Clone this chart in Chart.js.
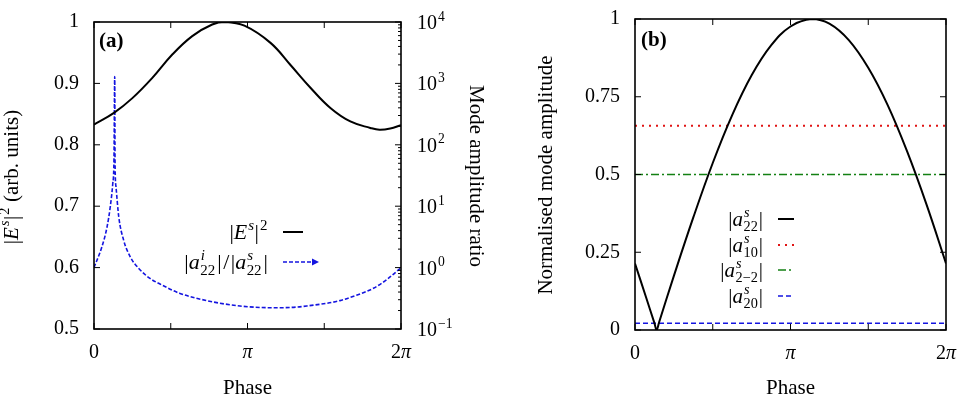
<!DOCTYPE html>
<html><head><meta charset="utf-8">
<script src="https://cdn.jsdelivr.net/npm/chart.js@4.4.1/dist/chart.umd.min.js"></script>
<style>
html,body{margin:0;padding:0;background:#fff;}
#wrap{position:relative;width:965px;height:400px;overflow:hidden;background:#fff;}
canvas{position:absolute;top:0;}
</style></head><body>
<div id="wrap">
<canvas id="ca" width="490" height="400" style="left:0px"></canvas>
<canvas id="cb" width="475" height="400" style="left:490px"></canvas>
</div>
<script>
// ---------- data (phase in units of pi) ----------
const phaseE     = [0, 0.13, 0.25, 0.38, 0.51, 0.64, 0.77, 0.855, 0.98, 1.15, 1.28, 1.41, 1.54, 1.67, 1.80, 1.86, 1.93, 2.0];
const intensityE = [0.833, 0.852, 0.876, 0.909, 0.947, 0.977, 0.996, 1.0, 0.994, 0.966, 0.930, 0.893, 0.860, 0.838, 0.8275, 0.8245, 0.8265, 0.832];

const phaseRatio = [0, 0.052, 0.085, 0.106, 0.122, 0.130, 0.135, 0.137, 0.143, 0.161, 0.193, 0.236, 0.293, 0.367, 0.430, 0.560, 0.734, 0.951, 1.168, 1.277, 1.386, 1.603, 1.71, 1.820, 1.91, 2.0];
const ratioA22   = [1.0, 2.2, 4.6, 9.8, 23, 56, 1290, 55, 21, 6.8, 2.8, 1.5, 0.96, 0.66, 0.54, 0.38, 0.29, 0.237, 0.222, 0.224, 0.237, 0.29, 0.355, 0.46, 0.645, 1.0];

const phaseB = [0, 0.07, 0.125, 0.139, 0.155, 0.25, 0.375, 0.5, 0.625, 0.75, 0.875, 1.0, 1.136, 1.25, 1.375, 1.5, 1.625, 1.75, 1.875, 2.0];
const ampA22 = [0.214, 0.107, 0.022, 0, 0.025, 0.174, 0.362, 0.537, 0.691, 0.819, 0.915, 0.976, 1.0, 0.985, 0.932, 0.843, 0.723, 0.574, 0.403, 0.214];

const phaseFlat = [0, 2];
const ampA10  = [0.657, 0.657];
const ampA2m2 = [0.5, 0.5];
const ampA20  = [0.0215, 0.0215];

const phaseTicks = [0, 0.5, 1, 1.5, 2];
const phaseTickLabels = {0: [{t:'0'}], 1: [{t:'π', it:true}], 2: [{t:'2'}, {t:'π', it:true}]};
const ticksEA = [0.5, 0.6, 0.7, 0.8, 0.9, 1];
const ratioDecades = [-1, 0, 1, 2, 3, 4];
const ticksAmpB = [0, 0.25, 0.5, 0.75, 1];

// ---------- helpers ----------
const FONT = 'Liberation Serif';
const BLUE = '#1414e0', RED = '#e01414', GREEN = '#138013';
function fnt(size, it, bold){ return (it?'italic ':'') + (bold?'bold ':'') + size + 'px "' + FONT + '"'; }
function segW(ctx, s, size){
  if (s.t !== undefined){ ctx.font = fnt(size, s.it, s.b); return ctx.measureText(s.t).width + (s.sp || 0); }
  const ss = size*0.68; let a = 0, b = 0;
  if (s.sup){ ctx.font = fnt(ss, s.supIt); a = ctx.measureText(s.sup).width; }
  if (s.sub){ ctx.font = fnt(ss, false); b = ctx.measureText(s.sub).width; }
  return Math.max(a, b) + (s.pad !== undefined ? s.pad : 1.5);
}
function drawRich(ctx, segs, x, y, size, align){
  let w = 0; for (const s of segs) w += segW(ctx, s, size);
  let cx = align === 'right' ? x - w : align === 'center' ? x - w/2 : x;
  ctx.textAlign = 'left'; ctx.textBaseline = 'alphabetic'; ctx.fillStyle = '#000';
  for (const s of segs){
    const ww = segW(ctx, s, size);
    if (s.t !== undefined){
      ctx.font = fnt(size, s.it, s.b); ctx.fillText(s.t, cx + (s.sp || 0)/2, y);
    } else {
      const ss = size*0.68;
      if (s.sup){ ctx.font = fnt(ss, s.supIt); ctx.fillText(s.sup, cx + 1, y - size*0.42); }
      if (s.sub){ ctx.font = fnt(ss, false); ctx.fillText(s.sub, cx + 0.5, y + size*0.26); }
    }
    cx += ww;
  }
}
function drawRotated(ctx, segs, cx, cy, size, angle){
  ctx.save(); ctx.translate(cx, cy); ctx.rotate(angle);
  drawRich(ctx, segs, 0, size*0.3, size, 'center');
  ctx.restore();
}
function line(ctx, x1, y1, x2, y2){ ctx.beginPath(); ctx.moveTo(x1, y1); ctx.lineTo(x2, y2); ctx.stroke(); }
function sample(ctx, x1, x2, y, color, dash, width){
  ctx.save(); ctx.strokeStyle = color; ctx.lineWidth = width; ctx.setLineDash(dash);
  line(ctx, x1, y, x2, y); ctx.restore();
}
function frameAndXTicks(ctx, chart){
  const a = chart.chartArea, xs = chart.scales.x;
  ctx.save(); ctx.strokeStyle = '#000'; ctx.lineWidth = 1;
  for (const v of phaseTicks){
    const px = xs.getPixelForValue(v);
    line(ctx, px, a.bottom, px, a.bottom - 6);
    line(ctx, px, a.top, px, a.top + 6);
    if (phaseTickLabels[v]) drawRich(ctx, phaseTickLabels[v], px, a.bottom + 29, 20, 'center');
  }
  ctx.lineWidth = 1.6;
  ctx.strokeRect(a.left, a.top, a.right - a.left, a.bottom - a.top);
  drawRich(ctx, [{t:'Phase'}], (a.left + a.right)/2, 394, 21, 'center');
  ctx.restore();
}
function fixPad(s){ s.paddingTop = 0; s.paddingBottom = 0; s.paddingLeft = 0; s.paddingRight = 0; }
const tickFmt = (v) => String(Math.round(v * 100) / 100);

Chart.defaults.font.family = FONT;
Chart.defaults.font.size = 20;
Chart.defaults.color = '#000';

const noGrid = {display:false, drawTicks:false};
const noBorder = {display:false};

// ---------- panel (a) ----------
const decorA = {
  id: 'decorA',
  afterDraw(chart){
    const ctx = chart.ctx, a = chart.chartArea, y = chart.scales.y, y2 = chart.scales.y2;
    ctx.save(); ctx.strokeStyle = '#000'; ctx.lineWidth = 1;
    for (const v of ticksEA){ const py = y.getPixelForValue(v); line(ctx, a.left, py, a.left + 6, py); }
    for (const d of ratioDecades){
      const py = y2.getPixelForValue(Math.pow(10, d));
      line(ctx, a.right, py, a.right - 6, py);
      drawRich(ctx, [{t:'10'}, {sup: d < 0 ? '−' + (-d) : String(d)}], a.right + 16, py + 7, 20, 'left');
      if (d < 4) for (let m = 2; m <= 9; m++){
        const pm = y2.getPixelForValue(m * Math.pow(10, d));
        line(ctx, a.right, pm, a.right - 3, pm);
      }
    }
    ctx.restore();
    frameAndXTicks(ctx, chart);
    drawRich(ctx, [{t:'(a)', b:true}], a.left + 5, a.top + 25, 21, 'left');
    drawRotated(ctx, [{t:'|'}, {t:'E', it:true}, {sup:'s', supIt:true}, {t:'|'}, {sup:'2'}, {t:' (arb. units)'}], 12, 177, 21, -Math.PI/2);
    drawRotated(ctx, [{t:'Mode amplitude ratio'}], 476, 176, 21, Math.PI/2);
    // legend
    const tx = a.left + 174, sx1 = a.left + 189;
    const r1 = a.top + 210, r2 = a.top + 240;
    drawRich(ctx, [{t:'|'}, {t:'E', it:true}, {sup:'s', supIt:true}, {t:'|'}, {sup:'2'}], tx, r1 + 7, 22, 'right');
    sample(ctx, sx1, sx1 + 20, r1, '#000', [], 2);
    drawRich(ctx, [{t:'|'}, {t:'a', it:true}, {sup:'i', supIt:true, sub:'22', pad:2.5}, {t:'|'}, {t:'/', sp:3}, {t:'|'}, {t:'a', it:true}, {sup:'s', supIt:true, sub:'22', pad:2.5}, {t:'|'}], tx, r2 + 7, 22, 'right');
    sample(ctx, sx1, sx1 + 30, r2, BLUE, [4, 2], 1.6);
    ctx.save(); ctx.fillStyle = BLUE; ctx.beginPath();
    ctx.moveTo(sx1 + 36, r2); ctx.lineTo(sx1 + 29, r2 - 3.5); ctx.lineTo(sx1 + 29, r2 + 3.5); ctx.closePath(); ctx.fill(); ctx.restore();
  }
};

new Chart(document.getElementById('ca'), {
  type: 'line',
  data: { datasets: [
    { label: '|E^s|^2', data: phaseE.map((p, i) => ({x: p, y: intensityE[i]})), yAxisID: 'y',
      borderColor: '#000', borderWidth: 2, pointRadius: 0, tension: 0.4, fill: false },
    { label: '|a^i_22|/|a^s_22|', data: phaseRatio.map((p, i) => ({x: p, y: ratioA22[i]})), yAxisID: 'y2',
      borderColor: BLUE, borderWidth: 1.6, borderDash: [4, 2], pointRadius: 0, cubicInterpolationMode: 'monotone', fill: false }
  ]},
  options: {
    responsive: false, animation: false, events: [],
    layout: { padding: {top: 22, left: 0, right: 0, bottom: 0} },
    plugins: { legend: {display: false}, tooltip: {enabled: false} },
    scales: {
      x: { type: 'linear', min: 0, max: 2, ticks: {display: false, stepSize: 0.5}, grid: noGrid, border: noBorder,
           afterFit(s){ s.height = 71; fixPad(s); } },
      y: { type: 'linear', position: 'left', min: 0.5, max: 1,
           ticks: {stepSize: 0.1, padding: 15, color: '#000', font: {family: FONT, size: 20}, callback: tickFmt},
           grid: noGrid, border: noBorder, afterFit(s){ s.width = 94; fixPad(s); } },
      y2: { type: 'logarithmic', position: 'right', min: 0.1, max: 10000, ticks: {display: false},
            grid: noGrid, border: noBorder, afterFit(s){ s.width = 89; fixPad(s); } }
    }
  },
  plugins: [decorA]
});

// ---------- panel (b) ----------
const decorB = {
  id: 'decorB',
  afterDraw(chart){
    const ctx = chart.ctx, a = chart.chartArea, y = chart.scales.y;
    ctx.save(); ctx.strokeStyle = '#000'; ctx.lineWidth = 1;
    for (const v of ticksAmpB){
      const py = y.getPixelForValue(v);
      line(ctx, a.left, py, a.left + 6, py);
      line(ctx, a.right, py, a.right - 6, py);
    }
    ctx.restore();
    frameAndXTicks(ctx, chart);
    drawRich(ctx, [{t:'(b)', b:true}], a.left + 6, a.top + 27, 21, 'left');
    drawRotated(ctx, [{t:'Normalised mode amplitude'}], 56, 175, 21, -Math.PI/2);
    const tx = a.left + 128, s1 = a.left + 143, s2 = a.left + 159;
    const rows = [a.top + 200, a.top + 226, a.top + 251, a.top + 277];
    const subs = ['22', '10', '2−2', '20'];
    const styles = [['#000', [], 2], [RED, [2, 5], 2], [GREEN, [8, 3, 2, 3], 1.6], [BLUE, [5, 3], 1.6]];
    rows.forEach((ry, i) => {
      drawRich(ctx, [{t:'|'}, {t:'a', it:true}, {sup:'s', supIt:true, sub: subs[i]}, {t:'|'}], tx, ry + 7, 21, 'right');
      sample(ctx, s1, s2, ry, styles[i][0], styles[i][1], styles[i][2]);
    });
  }
};

const flat = (arr) => phaseFlat.map((p, i) => ({x: p, y: arr[i]}));
new Chart(document.getElementById('cb'), {
  type: 'line',
  data: { datasets: [
    { label: '|a^s_22|', data: phaseB.map((p, i) => ({x: p, y: ampA22[i]})), borderColor: '#000', borderWidth: 2,
      pointRadius: 0, tension: 0.4, fill: false },
    { label: '|a^s_10|', data: flat(ampA10), borderColor: RED, borderWidth: 2, borderDash: [2, 5], pointRadius: 0, fill: false },
    { label: '|a^s_2-2|', data: flat(ampA2m2), borderColor: GREEN, borderWidth: 1.6, borderDash: [8, 3, 2, 3], pointRadius: 0, fill: false },
    { label: '|a^s_20|', data: flat(ampA20), borderColor: BLUE, borderWidth: 1.6, borderDash: [5, 3], pointRadius: 0, fill: false }
  ]},
  options: {
    responsive: false, animation: false, events: [],
    layout: { padding: {top: 19, left: 0, right: 19, bottom: 0} },
    plugins: { legend: {display: false}, tooltip: {enabled: false} },
    scales: {
      x: { type: 'linear', min: 0, max: 2, ticks: {display: false, stepSize: 0.5}, grid: noGrid, border: noBorder,
           afterFit(s){ s.height = 70; fixPad(s); } },
      y: { type: 'linear', position: 'left', min: 0, max: 1,
           ticks: {stepSize: 0.25, padding: 15, color: '#000', font: {family: FONT, size: 20}, callback: tickFmt},
           grid: noGrid, border: noBorder, afterFit(s){ s.width = 145; fixPad(s); } }
    }
  },
  plugins: [decorB]
});
</script>
</body></html>
